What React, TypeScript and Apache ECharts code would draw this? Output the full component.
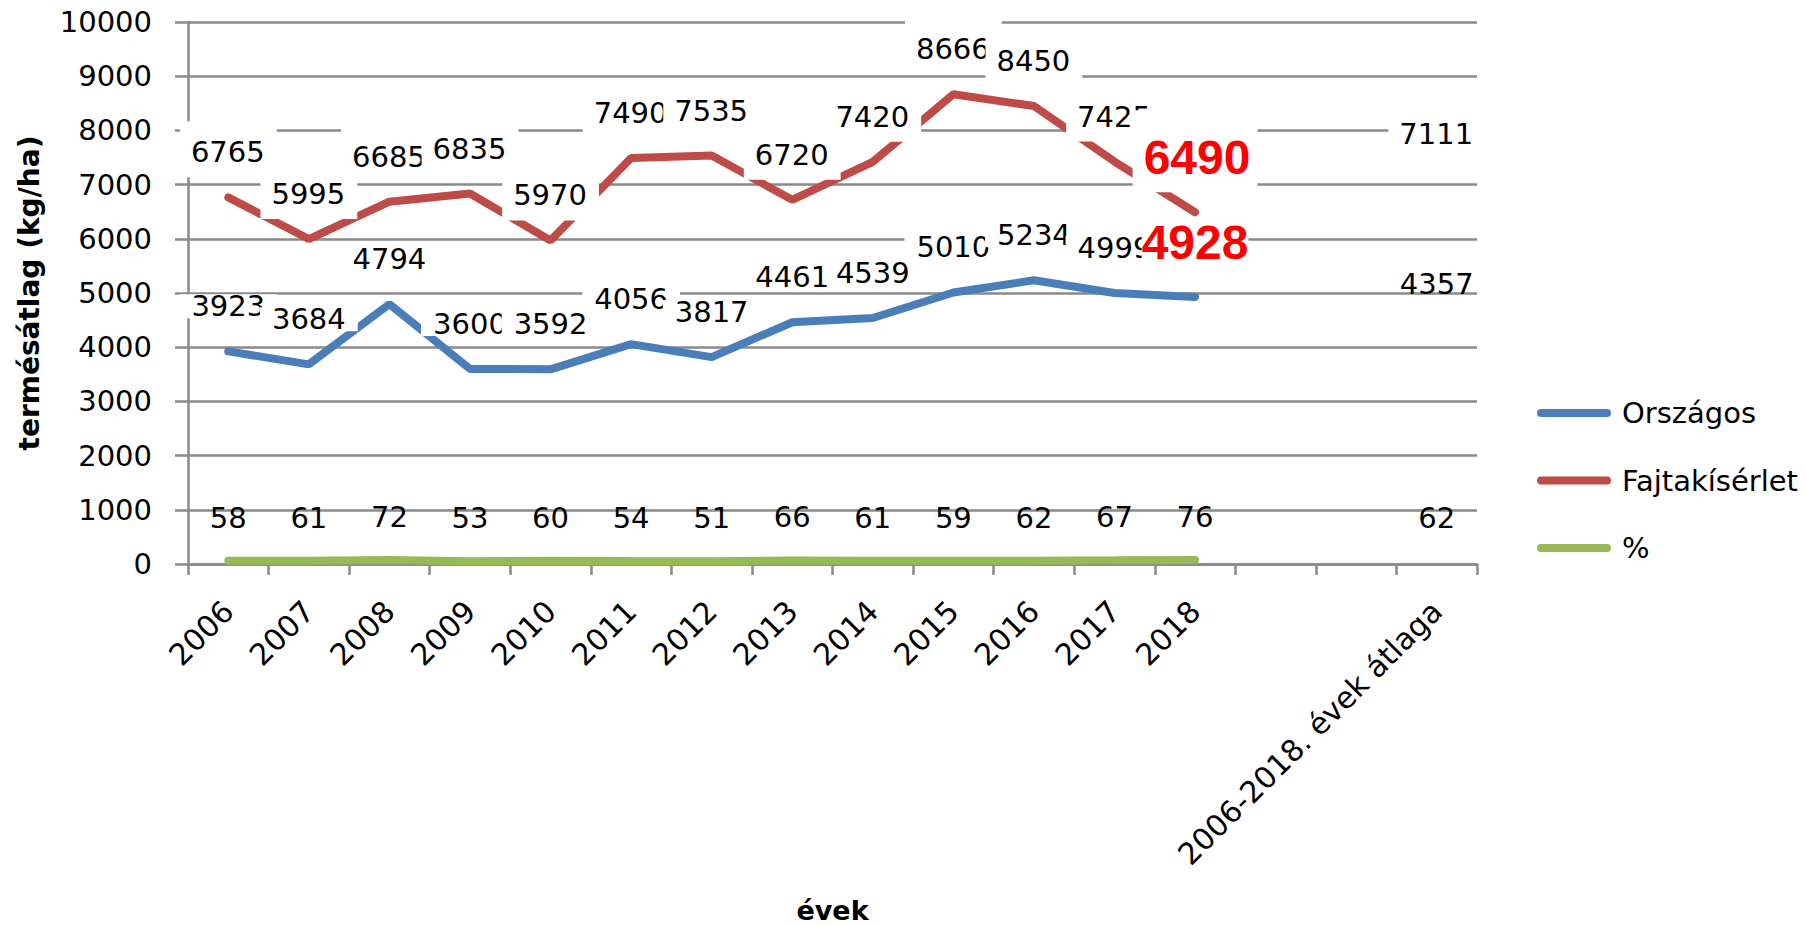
import { useEffect, useRef } from "react";
import * as echarts from "echarts";

const categories = [
  "2006", "2007", "2008", "2009", "2010", "2011", "2012",
  "2013", "2014", "2015", "2016", "2017", "2018", " ", "  ",
  "2006-2018. évek átlaga",
];
const orszagos = [3923, 3684, 4794, 3600, 3592, 4056, 3817, 4461, 4539, 5010, 5234, 4999, 4928, null, null, 4357];
const fajtakiserlet = [6765, 5995, 6685, 6835, 5970, 7490, 7535, 6720, 7420, 8666, 8450, 7425, 6490, null, null, 7111];
const szazalek = [58, 61, 72, 53, 60, 54, 51, 66, 61, 59, 62, 67, 76, null, null, 62];
const seriesNames = ["Országos", "Fajtakísérlet", "%"];
const colors = ["#4A7EBB", "#BE4B48", "#98B954"];

const FONT = "DejaVu Sans";
const GRID_COLOR = "#8A8A8A";
const HIGHLIGHT_INDEX = 12;
const AVERAGE_INDEX = 15;

export default function App() {
  const ref = useRef<HTMLDivElement>(null);

  useEffect(() => {
    document.body.style.margin = "0";
    const chart = echarts.init(ref.current!, null, { renderer: "svg" });

    const baseLabel = {
      show: true,
      position: "top",
      fontFamily: FONT,
      fontSize: 29,
      color: "#000",
      lineHeight: 30,
    };

    const highlightLabel = {
      fontFamily: "Liberation Sans",
      fontSize: 48,
      fontWeight: "bold",
      color: "#FF0000",
    };

    const buildData = (values: (number | null)[], overrides: Record<number, any>) =>
      values.map((v, i) => {
        if (v == null) return "-";
        return overrides[i] ? { value: v, label: overrides[i] } : v;
      });

    const iconPath = "path://M4,0 L70,0 A4,4 0 0 1 70,8 L4,8 A4,4 0 0 1 4,0 Z";

    const option: any = {
      animation: false,
      grid: { left: 188, right: 329, top: 22, bottom: 362, containLabel: false, outerBoundsMode: "none" },
      legend: {
        orient: "vertical",
        left: 1532,
        top: 393,
        itemWidth: 74,
        itemHeight: 8,
        itemGap: 37.5,
        selectedMode: false,
        textStyle: { fontFamily: FONT, fontSize: 29, color: "#000", lineHeight: 30, padding: [0, 0, 0, 6] },
        data: seriesNames.map((n, i) => ({ name: n, icon: iconPath, itemStyle: { color: colors[i] } })),
      },
      xAxis: {
        type: "category",
        data: categories,
        boundaryGap: true,
        name: "évek",
        nameLocation: "middle",
        nameGap: 333,
        nameTextStyle: { fontFamily: FONT, fontSize: 27, lineHeight: 27, fontWeight: "bold", color: "#000" },
        axisLine: { show: true, lineStyle: { color: GRID_COLOR, width: 2.5 } },
        axisTick: { show: true, length: 11, interval: 0, alignWithLabel: false, lineStyle: { color: GRID_COLOR, width: 2.5 } },
        axisLabel: { interval: 0, rotate: 45, margin: 42, fontFamily: FONT, fontSize: 30, color: "#000" },
        splitLine: { show: false },
      },
      yAxis: {
        type: "value",
        min: 0,
        max: 10000,
        interval: 1000,
        name: "termésátlag (kg/ha)",
        nameLocation: "middle",
        nameGap: 145,
        nameTextStyle: { fontFamily: FONT, fontSize: 28, fontWeight: "bold", color: "#000" },
        axisLine: { show: true, lineStyle: { color: GRID_COLOR, width: 2.5 } },
        axisTick: { show: true, length: 13, lineStyle: { color: GRID_COLOR, width: 2.5 } },
        axisLabel: { margin: 36, fontFamily: FONT, fontSize: 29, color: "#000", formatter: (v: number) => String(v) },
        splitLine: { show: true, lineStyle: { color: GRID_COLOR, width: 2.5 } },
      },
      series: [
        {
          name: seriesNames[0],
          type: "line",
          symbol: "circle",
          symbolSize: 0,
          showSymbol: true,
          connectNulls: false,
          color: colors[0],
          lineStyle: { color: colors[0], width: 8, cap: "round" },
          emphasis: { disabled: true },
          label: { ...baseLabel, lineHeight: 24, distance: 33, backgroundColor: "#fff", padding: [0, 12, 0, 12] },
          data: buildData(orszagos, {
            [HIGHLIGHT_INDEX]: { ...highlightLabel, lineHeight: 40, padding: 0, distance: 34, backgroundColor: "#fff" },
            [AVERAGE_INDEX]: { backgroundColor: "transparent", padding: 0, lineHeight: 30, distance: 29 },
          }),
        },
        {
          name: seriesNames[1],
          type: "line",
          symbol: "circle",
          symbolSize: 0,
          showSymbol: true,
          connectNulls: false,
          color: colors[1],
          lineStyle: { color: colors[1], width: 8, cap: "round" },
          emphasis: { disabled: true },
          label: { ...baseLabel, distance: 20, backgroundColor: "#fff", padding: [16, 12, 10, 11] },
          data: buildData(fajtakiserlet, {
            [HIGHLIGHT_INDEX]: { ...highlightLabel, lineHeight: 50, padding: [22, 7, 10, 11], distance: 20, backgroundColor: "#fff" },
          }),
        },
        {
          name: seriesNames[2],
          type: "line",
          symbol: "circle",
          symbolSize: 0,
          showSymbol: true,
          connectNulls: false,
          color: colors[2],
          lineStyle: { color: colors[2], width: 8, cap: "round" },
          emphasis: { disabled: true },
          label: { ...baseLabel, distance: 28 },
          data: buildData(szazalek, {}),
        },
      ],
    };

    chart.setOption(option);
    return () => chart.dispose();
  }, []);

  return <div ref={ref} style={{ width: 1806, height: 926 }} />;
}
